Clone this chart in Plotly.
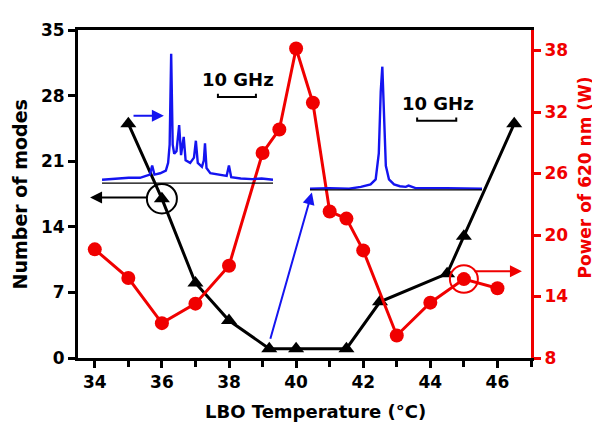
import plotly.graph_objects as go

# ---- main data ----
temp_modes = [35, 36, 37, 38, 39.2, 40, 41.5, 42.5, 44.5, 45, 46.5]
modes = [25, 17, 8, 4, 1, 1, 1, 6, 9, 13, 25]

temp_power = [34, 35, 36, 37, 38, 39, 39.5, 40, 40.5, 41, 41.5, 42, 43, 44, 45, 46]
power = [18.6, 15.8, 11.4, 13.3, 17.0, 28.0, 30.3, 38.2, 32.9, 22.3, 21.6, 18.5, 10.2, 13.4, 15.7, 14.8]

x_ticks = [34, 36, 38, 40, 42, 44, 46]
y_left_ticks = [0, 7, 14, 21, 28, 35]
y_right_ticks = [8, 14, 20, 26, 32, 38]

# ---- inset spectra (frequency in GHz, normalised intensity) ----
spec1_freq = [0, 2.5, 4.7, 7, 10, 11.5, 12.6, 13.2, 13.8, 15.3, 16.8, 17.4, 17.8, 18.2, 18.6,
              19.0, 19.6, 20.3, 20.8, 21.5, 22.0, 23.2, 24.2, 24.7, 25.2, 26.3, 26.8, 27.1, 27.5,
              28.5, 30.5, 32.8, 33.4, 34.0, 36.5, 39.5, 42, 45]
spec1_int = [0.03, 0.035, 0.04, 0.045, 0.045, 0.06, 0.07, 0.14, 0.07, 0.08, 0.10, 0.16, 0.3, 1.0, 0.3,
             0.23, 0.25, 0.45, 0.22, 0.36, 0.18, 0.16, 0.2, 0.33, 0.16, 0.13, 0.18, 0.31, 0.12,
             0.08, 0.07, 0.06, 0.14, 0.05, 0.04, 0.035, 0.04, 0.03]

spec2_freq = [0, 5, 10, 13, 15.5, 16.8, 17.6, 18.1, 18.5, 18.9, 19.4, 20.2, 21.5, 23, 24.5, 25.2, 27, 35, 44]
spec2_int = [0.015, 0.02, 0.015, 0.03, 0.05, 0.09, 0.3, 0.8, 1.0, 0.6, 0.2, 0.09, 0.05, 0.035, 0.03, 0.04, 0.02, 0.02, 0.015]

inset1_range = [0, 45]
inset2_range = [0, 44]
scale_len = 10  # GHz
inset1_bar = (30.5, 0.667)
inset2_bar = (27.4, 0.563)

RED = '#f00000'
BLUE = '#1414f0'
FONT = 'DejaVu Sans'

fig = go.Figure()

# inset traces
fig.add_trace(go.Scatter(x=spec1_freq, y=spec1_int, xaxis='x3', yaxis='y3', mode='lines',
                         line=dict(color=BLUE, width=2.4), hoverinfo='skip'))
fig.add_trace(go.Scatter(x=spec2_freq, y=spec2_int, xaxis='x4', yaxis='y4', mode='lines',
                         line=dict(color=BLUE, width=2.4), hoverinfo='skip'))

# main traces
fig.add_trace(go.Scatter(x=temp_modes, y=modes, mode='lines+markers', xaxis='x', yaxis='y',
                         line=dict(color='black', width=3),
                         marker=dict(symbol='triangle-up', size=14, color='black')))
fig.add_trace(go.Scatter(x=temp_power, y=power, mode='lines+markers', xaxis='x', yaxis='y2',
                         line=dict(color=RED, width=3),
                         marker=dict(symbol='circle', size=14, color=RED)))

tickfont = dict(family=FONT, size=17, color='black', weight='bold')

shapes = []
# inset baselines
shapes.append(dict(type='line', xref='x3', yref='y3', x0=inset1_range[0], x1=inset1_range[1], y0=0, y1=0,
                   line=dict(color='black', width=2.5)))
shapes.append(dict(type='line', xref='x4', yref='y4', x0=inset2_range[0], x1=inset2_range[1], y0=0, y1=0,
                   line=dict(color='black', width=2.5)))
# scale bars
for (xr, yr, (bx, by), h) in [('x3', 'y3', inset1_bar, 0.025), ('x4', 'y4', inset2_bar, 0.025)]:
    shapes.append(dict(type='path', xref=xr, yref=yr,
                       path=f'M {bx},{by + h} L {bx},{by} L {bx + scale_len},{by} L {bx + scale_len},{by + h}',
                       line=dict(color='black', width=2)))
# circles
shapes.append(dict(type='circle', xref='x', yref='y', x0=36 - 0.447, x1=36 + 0.447, y0=17 - 1.58, y1=17 + 1.58,
                   line=dict(color='black', width=2)))
shapes.append(dict(type='circle', xref='x', yref='y2', x0=45 - 0.417, x1=45 + 0.417, y0=15.7 - 1.345, y1=15.7 + 1.345,
                   line=dict(color=RED, width=2)))

annotations = []
def arrow(x0, y0, x1, y1, color, yref='y'):
    annotations.append(dict(x=x1, y=y1, ax=x0, ay=y0, xref='x', yref=yref, axref='x', ayref=yref,
                            text='', showarrow=True, arrowhead=2, arrowsize=1.2, arrowwidth=2,
                            arrowcolor=color))

arrow(35.11, 25.86, 36.06, 25.86, BLUE)
arrow(35.59, 17.13, 33.86, 17.13, 'black')
arrow(45.27, 16.46, 46.73, 16.46, RED, yref='y2')
arrow(39.22, 1.89, 40.47, 17.66, BLUE)

gfont = dict(family=FONT, size=18, color='black', weight='bold')
annotations.append(dict(x=35.8, y=0.80, xref='x3', yref='y3', text='10 GHz', showarrow=False, font=gfont))
annotations.append(dict(x=32.8, y=0.70, xref='x4', yref='y4', text='10 GHz', showarrow=False, font=gfont))

# axis titles
annotations.append(dict(x=0.525, y=-0.162, xref='paper', yref='paper', text='LBO Temperature (°C)',
                        showarrow=False, font=dict(family=FONT, size=18, color='black', weight='bold'),
                        xanchor='center', yanchor='middle'))
annotations.append(dict(x=-0.126, y=0.4985, xref='paper', yref='paper', text='Number of modes', textangle=-90,
                        showarrow=False, font=dict(family=FONT, size=19, color='black', weight='bold'),
                        xanchor='center', yanchor='middle'))
annotations.append(dict(x=1.119, y=0.55, xref='paper', yref='paper', text='Power of 620 nm (W)', textangle=-90,
                        showarrow=False, font=dict(family=FONT, size=17, color=RED, weight='bold'),
                        xanchor='center', yanchor='middle'))

# the page body adds an 8px offset, so the figure is 8px smaller and margins shifted
fig.update_layout(
    width=592, height=415,
    margin=dict(l=70, r=69, t=17, b=65),
    paper_bgcolor='white', plot_bgcolor='rgba(0,0,0,0)',
    showlegend=False,
    xaxis=dict(range=[33.5, 47], tickvals=x_ticks, ticks='outside', ticklen=7, tickwidth=2.5,
               tickcolor='black', showline=True, linewidth=3, linecolor='black', mirror=True,
               showgrid=False, zeroline=False, tickfont=tickfont,
               minor=dict(dtick=1, tick0=34, ticks='outside', ticklen=6, tickwidth=2.5,
                          tickcolor='black', showgrid=False)),
    yaxis=dict(range=[0, 35], tickvals=y_left_ticks, ticks='outside', ticklen=7, tickwidth=2.5,
               tickcolor='black', showline=True, linewidth=3, linecolor='black',
               showgrid=False, zeroline=False, tickfont=tickfont),
    yaxis2=dict(range=[8, 40], tickvals=y_right_ticks, overlaying='y', side='right', ticks='outside',
                ticklen=7, tickwidth=2.5, tickcolor=RED, showline=True, linewidth=3, linecolor=RED,
                showgrid=False, zeroline=False, tickfont=dict(family=FONT, size=17, color=RED, weight='bold')),
    xaxis3=dict(domain=[0.053, 0.4305], range=inset1_range, anchor='y3', visible=False, fixedrange=True),
    yaxis3=dict(domain=[0.5315, 0.928], range=[0, 1], anchor='x3', visible=False, fixedrange=True),
    xaxis4=dict(domain=[0.512, 0.892], range=inset2_range, anchor='y4', visible=False, fixedrange=True),
    yaxis4=dict(domain=[0.5105, 0.889], range=[0, 1], anchor='x4', visible=False, fixedrange=True),
    shapes=shapes,
    annotations=annotations,
)

fig.write_html('out.html')
